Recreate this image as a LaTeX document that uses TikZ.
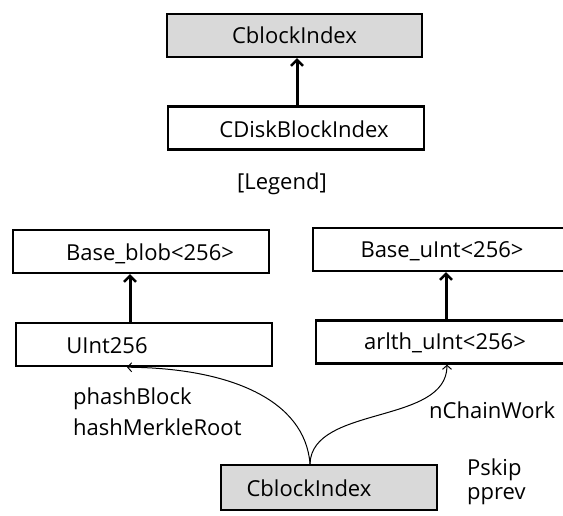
\documentclass[tikz,border=0pt]{standalone}
\usepackage{fontspec}
\setmainfont{Open Sans}
\usetikzlibrary{arrows.meta}
\definecolor{boxgray}{RGB}{217,217,217}
\tikzset{
  box/.style={draw=black, line width=2.4pt, rectangle, minimum width=#1, minimum height=43pt, inner sep=0pt, font=\fontsize{22}{25}\selectfont},
  box/.default=256pt,
  lbl/.style={inner sep=0pt, font=\fontsize{22}{25}\selectfont},
  inherit/.style={line width=3pt, -{Straight Barb[length=6pt,width=12pt,line width=2.4pt]}},
  ref/.style={line width=1pt, -{Straight Barb[length=4pt,width=9pt,line width=1pt]}}
}
\begin{document}
\begin{tikzpicture}[x=1pt,y=-1pt]
\useasboundingbox[fill=white] (0,0) rectangle (563,516);
% legend
\node[box=255pt, fill=boxgray] (topidx) at (294.5,35.5) {CblockIndex};
\node[box] (disk) at (296,128) {};
\node[lbl] (disktxt) at (304,129) {CDiskBlockIndex};
\node[lbl] (legend) at (282,184) {[Legend]};
\draw[inherit] (disk.north -| 297,0) -- (topidx.south -| 297,0);
% left column
\node[box] (blob) at (141,251.5) {};
\node[lbl] (blobtxt) at (150,254) {Base\_blob<256>};
\node[box] (uint) at (144,344.5) {};
\node[lbl] (uinttxt) at (107,346) {UInt256};
\draw[inherit] (uint.north -| 130,0) -- (blob.south -| 130,0);
% right column
\node[box] (buint) at (441,249.5) {};
\node[lbl] (buinttxt) at (442,251) {Base\_uInt<256>};
\node[box] (arith) at (444,342) {};
\node[lbl] (arithtxt) at (445,343) {arlth\_uInt<256>};
\draw[inherit] (arith.north -| 446,0) -- (buint.south -| 446,0);
% bottom
\node[box=216pt, minimum height=45pt, fill=boxgray] (bot) at (329,487.5) {};
\node[lbl] (bottxt) at (309,488) {CblockIndex};
\coordinate (src) at (bot.north -| 310,0);
\draw[ref] (src) .. controls (305,400) and (230,368) .. (uint.south -| 127,0);
\draw[ref] (src) .. controls (312,405) and (447,425) .. (arith.south -| 447,0);
\node[lbl, anchor=west, align=left, font=\fontsize{22}{31}\selectfont] (lefttxt) at (73,412) {phashBlock\\hashMerkleRoot};
\node[lbl, anchor=west] (nchain) at (429,410) {nChainWork};
\node[lbl, anchor=west, align=left, font=\fontsize{22}{24}\selectfont] (ptrs) at (467,482) {Pskip\\pprev};
\end{tikzpicture}
\end{document}
